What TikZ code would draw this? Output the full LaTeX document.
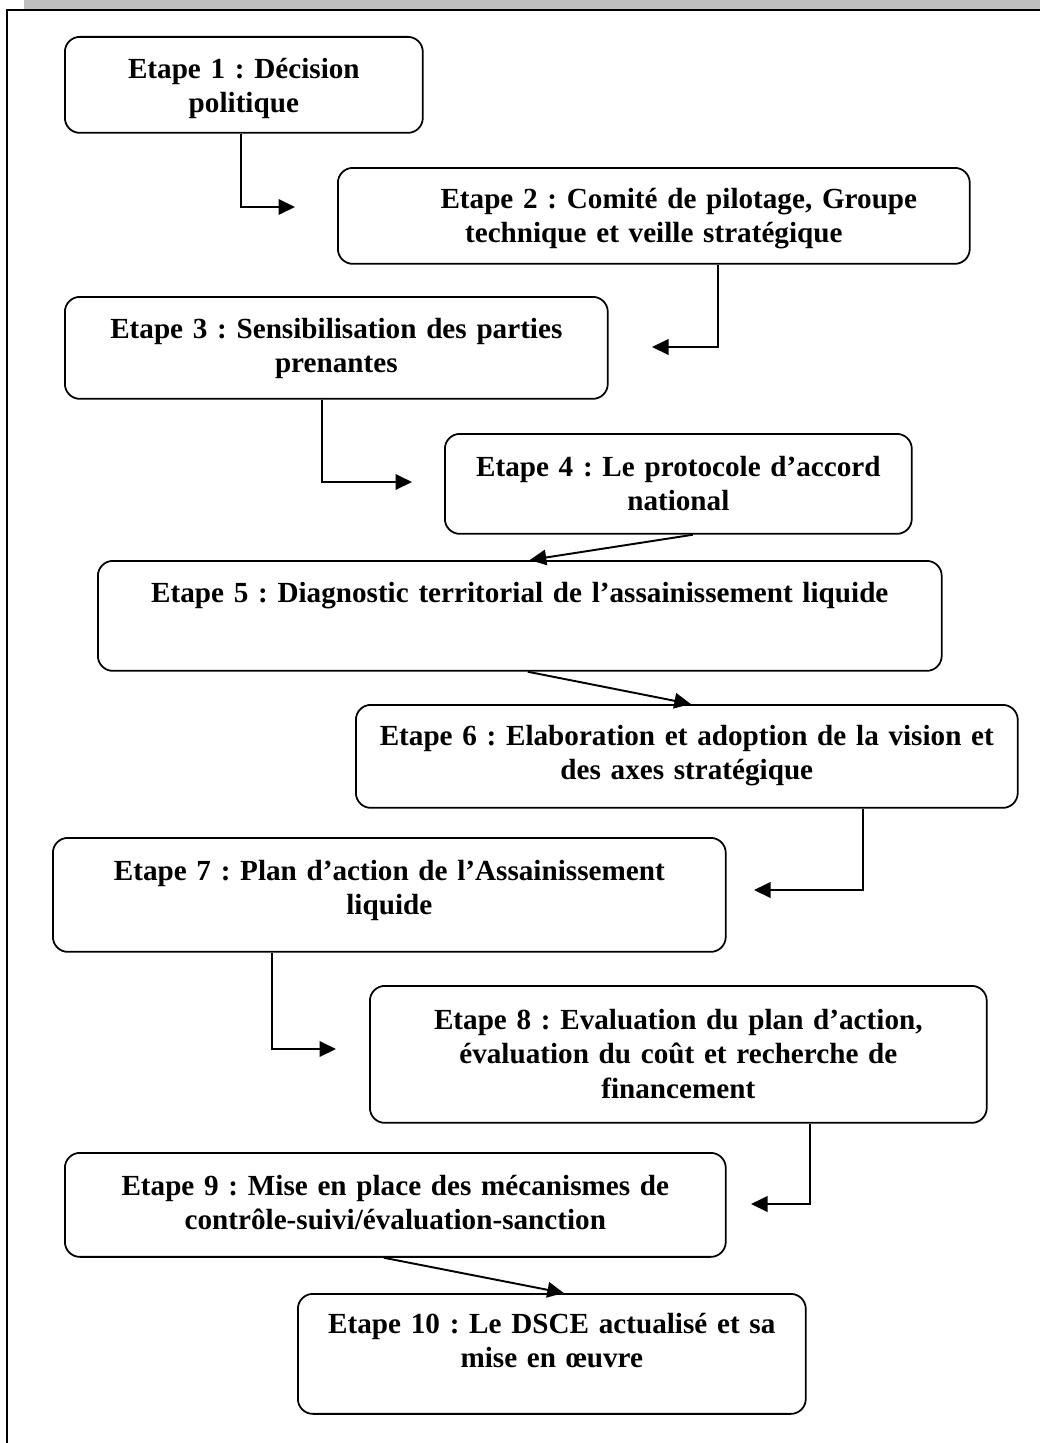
\documentclass[tikz,border=0pt]{standalone}
\usepackage{fontspec}
\setmainfont{Liberation Serif}
\usetikzlibrary{arrows.meta}
\frenchspacing

\begin{document}
\begin{tikzpicture}[x=0.02cm, y=-0.02cm,
        etape/.style={draw, line width=1pt, rounded corners=0.3cm, inner sep=0pt,
          anchor=north west, align=center,
          font=\fontsize{16.6}{19.4}\selectfont\bfseries},
        fleche/.style={line width=1.1pt, -{Triangle[length=0.33cm, width=0.31cm]}}]

% Page frame
        \useasboundingbox (0,0) rectangle (1040,1443);
        \fill[black!25] (24,0) rectangle (1040,9);
        \draw[line width=1pt] (7,1443) -- (7,10) -- (1040,10);

% Steps
        \node[etape, text width=7.16cm, text height=0.84cm, text depth=1.08cm] (e1) at (64,36)
          {Etape 1 : Décision\\politique};
        \node[etape, text width=12.64cm, text height=0.82cm, text depth=1.10cm] (e2) at (337,167)
          {\hspace*{1cm}Etape 2 : Comité de pilotage, Groupe\\technique et veille stratégique};
        \node[etape, text width=10.86cm, text height=0.84cm, text depth=1.20cm] (e3) at (64,296)
          {Etape 3 : Sensibilisation des parties\\prenantes};
        \node[etape, text width=9.34cm, text height=0.86cm, text depth=1.14cm] (e4) at (444,433)
          {Etape 4 : Le protocole d’accord\\national};
        \node[etape, text width=16.88cm, text height=0.84cm, text depth=1.36cm] (e5) at (97,560)
          {Etape 5 : Diagnostic territorial de l’assainissement liquide};
        \node[etape, text width=13.24cm, text height=0.82cm, text depth=1.24cm] (e6) at (355,704)
          {Etape 6 : Elaboration et adoption de la vision et\\des axes stratégique};
        \node[etape, text width=13.46cm, text height=0.86cm, text depth=1.42cm] (e7) at (52,837)
          {Etape 7 : Plan d’action de l’Assainissement\\liquide};
        \node[etape, text width=12.34cm, text height=0.88cm, text depth=1.86cm] (e8) at (369,985)
          {Etape 8 : Evaluation du plan d’action,\\évaluation du coût et recherche de\\financement};
        \node[etape, text width=13.22cm, text height=0.86cm, text depth=1.22cm] (e9) at (64,1152)
          {Etape 9 : Mise en place des mécanismes de\\contrôle-suivi/évaluation-sanction};
        \node[etape, text width=10.16cm, text height=0.80cm, text depth=1.60cm] (e10) at (297,1293)
          {Etape 10 : Le DSCE actualisé et sa\\mise en œuvre};

% Arrows
        \coordinate (p2) at (295,207);
        \coordinate (p3) at (652,347);
        \coordinate (p4) at (412,482);
        \coordinate (p7) at (754,890);
        \coordinate (p8) at (336,1049);
        \coordinate (p9) at (751,1204);
        \draw[fleche] ([xshift=-0.06cm]e1.south) |- (p2);
        \draw[fleche] ([xshift=1.28cm]e2.south) |- (p3);
        \draw[fleche] ([xshift=-0.29cm]e3.south) |- (p4);
        \draw[fleche] ([xshift=0.29cm]e4.south) -- ([xshift=0.2cm]e5.north);
        \draw[fleche] ([xshift=0.16cm]e5.south) -- ([xshift=0.08cm]e6.north);
        \draw[fleche] ([xshift=3.52cm]e6.south) |- (p7);
        \draw[fleche] ([xshift=-2.35cm]e7.south) |- (p8);
        \draw[fleche] ([xshift=2.63cm]e8.south) |- (p9);
        \draw[fleche] ([xshift=-0.23cm]e9.south) -- ([xshift=0.24cm]e10.north);

\end{tikzpicture}
\end{document}
